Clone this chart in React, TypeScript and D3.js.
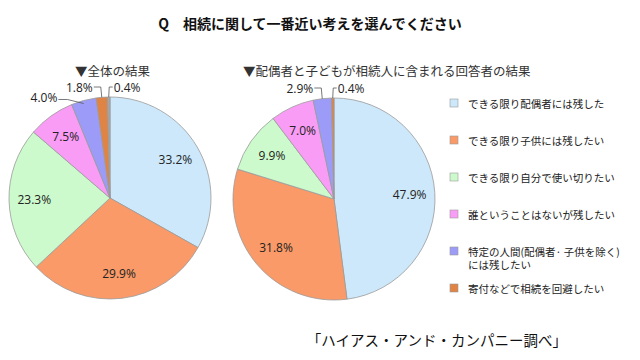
import React from "react";
import * as d3 from "d3";

const titleText = "Q　相続に関して一番近い考えを選んでください";
const leftTitle = "▼全体の結果";
const rightTitle = "▼配偶者と子どもが相続人に含まれる回答者の結果";
const sourceText = "「ハイアス・アンド・カンパニー調べ」";

const categories = [
  "できる限り配偶者には残した",
  "できる限り子供には残したい",
  "できる限り自分で使い切りたい",
  "誰ということはないが残したい",
  "特定の人間(配偶者· 子供を除く)\nには残したい",
  "寄付などで相続を回避したい",
  "無回答",
];
const overallValues = [33.2, 29.9, 23.3, 7.5, 4.0, 1.8, 0.4];
const spouseChildValues = [47.9, 31.8, 9.9, 7.0, 2.9, 0.4];
const legendCount = 6;

const colors = ["#CCE8FA", "#FA9A68", "#CCFACC", "#F99CF5", "#9C9CF8", "#DF8444", "#A6A6A6"];

const FONT = "'Noto Sans CJK JP', 'Noto Sans', sans-serif";
const NUMFONT = "'Open Sans', 'Noto Sans', sans-serif";

function textW(s: string) {
  let w = 0;
  for (const ch of s) w += ch === "." ? 3.4 : ch === "%" ? 10 : 7;
  return w;
}

function Pie({ cx, cy, r, values }: { cx: number; cy: number; r: number; values: number[] }) {
  const pie = d3.pie<number>().sort(null).value((d) => d);
  const arcs = pie(values);
  const arc = d3.arc<d3.PieArcDatum<number>>().innerRadius(0).outerRadius(r);
  const labelArc = d3.arc<d3.PieArcDatum<number>>().innerRadius(r * 0.75).outerRadius(r * 0.75);
  const fmt = (v: number) => `${v.toFixed(1)}%`;
  const n = arcs.length;
  const small = arcs.filter((a) => a.data < 5);
  const leftSide = small.filter((a) => a.index !== n - 1).sort((a, b) => b.endAngle - a.endAngle);
  const rightSide = small.filter((a) => a.index === n - 1);
  const outside: React.ReactNode[] = [];
  const pt = (a: d3.PieArcDatum<number>) => {
    const m = (a.startAngle + a.endAngle) / 2;
    return [cx + r * Math.sin(m), cy - r * Math.cos(m)];
  };
  let prevStart = 0;
  leftSide.forEach((a, i) => {
    const [ax, ay] = pt(a);
    const txt = fmt(a.data);
    const w = textW(txt);
    if (i === 0) {
      const ly = cy - r - 10;
      const te = ax - 9;
      prevStart = te - w;
      outside.push(
        <g key={`o${a.index}`}>
          <polyline points={`${te + 1},${ly} ${ax - 1},${ly} ${ax},${ay}`} fill="none" stroke="#555" strokeWidth={0.8} />
          <text x={te} y={ly} textAnchor="end" dominantBaseline="central" fontSize={12} fontFamily={NUMFONT} fill="#222">{txt}</text>
        </g>
      );
    } else {
      const ly = ay - 3;
      const te = prevStart - 8;
      prevStart = te - w;
      outside.push(
        <g key={`o${a.index}`}>
          <polyline points={`${te + 1},${ly + 2} ${te + 10},${ly + 2} ${ax},${ay + 3}`} fill="none" stroke="#555" strokeWidth={0.8} />
          <text x={te} y={ly} textAnchor="end" dominantBaseline="central" fontSize={12} fontFamily={NUMFONT} fill="#222">{txt}</text>
        </g>
      );
    }
  });
  rightSide.forEach((a) => {
    const [ax, ay] = pt(a);
    const txt = fmt(a.data);
    const ly = cy - r - 10;
    const ts = ax + 5;
    outside.push(
      <g key={`o${a.index}`}>
        <polyline points={`${ax},${ay} ${ax + 0.5},${ly} ${ts - 1},${ly}`} fill="none" stroke="#555" strokeWidth={0.8} />
        <text x={ts} y={ly} textAnchor="start" dominantBaseline="central" fontSize={12} fontFamily={NUMFONT} fill="#222">{txt}</text>
      </g>
    );
  });
  return (
    <g>
      <g transform={`translate(${cx},${cy})`}>
        {arcs.map((a) => (
          <path key={a.index} d={arc(a) || ""} fill={colors[a.index]} stroke="#9a9a9a" strokeWidth={0.8} />
        ))}
        {arcs
          .filter((a) => a.data >= 5)
          .map((a) => {
            const [lx, ly] = labelArc.centroid(a);
            return (
              <text key={`l${a.index}`} x={lx} y={ly} textAnchor="middle" dominantBaseline="central" fontSize={12} fontFamily={NUMFONT} fill="#222">
                {fmt(a.data)}
              </text>
            );
          })}
      </g>
      {outside}
    </g>
  );
}

export default function App() {
  const legendY = d3.scalePoint<number>().domain(d3.range(legendCount)).range([103, 288]);
  return (
    <div style={{ position: "absolute", left: 0, top: 0 }}>
      <svg width={640} height={360} style={{ display: "block", background: "#fff" }}>
        <text x={310} y={23} textAnchor="middle" dominantBaseline="central" fontSize={14} fontWeight="bold" fontFamily={FONT} fill="#111">
          {titleText}
        </text>
        <text x={75} y={70} dominantBaseline="central" fontSize={12.5} fontFamily={FONT} fill="#333">{leftTitle}</text>
        <text x={243} y={70} dominantBaseline="central" fontSize={12.5} fontFamily={FONT} fill="#333">{rightTitle}</text>
        <Pie cx={110} cy={198} r={101} values={overallValues} />
        <Pie cx={334} cy={199} r={101} values={spouseChildValues} />
        {categories.slice(0, legendCount).map((c, i) => {
          const lines = c.split("\n");
          const y = legendY(i) as number;
          return (
            <g key={i}>
              <rect x={450} y={y - 4} width={8} height={8} fill={colors[i]} stroke="#9a9a9a" strokeWidth={0.6} />
              <text x={468} y={y} dominantBaseline="central" fontSize={10.5} fontFamily={FONT} fill="#222">
                {lines.map((ln, j) => (
                  <tspan key={j} x={468} dy={j === 0 ? 0 : 13}>
                    {ln}
                  </tspan>
                ))}
              </text>
            </g>
          );
        })}
        <text x={567} y={339} textAnchor="end" dominantBaseline="central" fontSize={14.5} fontFamily={FONT} fill="#111">
          {sourceText}
        </text>
      </svg>
    </div>
  );
}
